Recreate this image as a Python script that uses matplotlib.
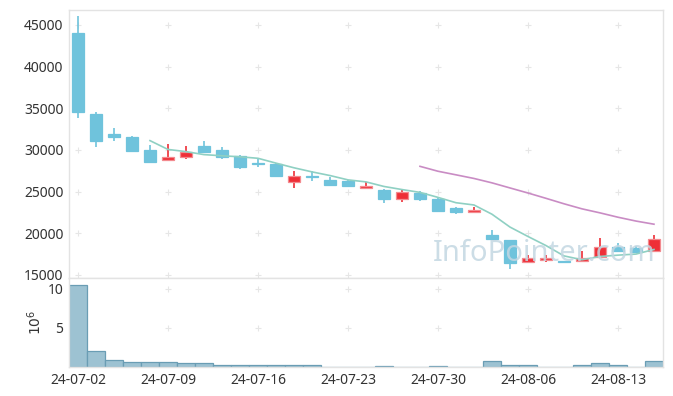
import matplotlib
matplotlib.use("Agg")
import matplotlib.pyplot as plt
import numpy as np
import pandas as pd

plt.rcParams['font.family'] = ['Noto Sans', 'DejaVu Sans']

dates = ["24-07-02", "24-07-03", "24-07-04", "24-07-05", "24-07-08", "24-07-09",
         "24-07-10", "24-07-11", "24-07-12", "24-07-15", "24-07-16", "24-07-17",
         "24-07-18", "24-07-19", "24-07-22", "24-07-23", "24-07-24", "24-07-25",
         "24-07-26", "24-07-29", "24-07-30", "24-07-31", "24-08-01", "24-08-02",
         "24-08-05", "24-08-06", "24-08-07", "24-08-08", "24-08-09", "24-08-12",
         "24-08-13", "24-08-14", "24-08-16"]
opens = [44000, 34300, 31900, 31600, 30000, 28800, 29150, 30450, 30050, 29250,
         28400, 28350, 26150, 26850, 26450, 26250, 25400, 25200, 24150, 24850,
         24100, 23000, 22500, 19800, 19200, 16550, 16800, 16650, 16700, 17200,
         18300, 18250, 17900]
highs = [46100, 34500, 32650, 31700, 30600, 30700, 30500, 31050, 30300, 29400,
         29000, 28400, 27500, 27500, 26700, 26450, 26200, 25300, 25200, 25100,
         24300, 23100, 23100, 20400, 19250, 17350, 17400, 16700, 17900, 19400,
         18850, 18500, 19800]
lows = [33800, 30400, 31100, 29850, 28450, 28700, 28900, 29600, 28900, 27700,
        28000, 26700, 25400, 26300, 25750, 25500, 25350, 23600, 23700, 23900,
        22600, 22300, 22450, 19300, 15700, 16500, 16550, 16550, 16700, 17150,
        17700, 17600, 17900]
closes = [34500, 31100, 31500, 29900, 28600, 29200, 29800, 29700, 29200, 28000,
          28300, 26900, 26900, 26750, 25800, 25700, 25700, 24150, 24900, 24100,
          22700, 22500, 22800, 19350, 16400, 17050, 17050, 16600, 17050, 18350,
          17850, 17700, 19350]
# volume in millions
volumes = [10.45, 2.1, 0.95, 0.7, 0.58, 0.7, 0.45, 0.45, 0.28, 0.28,
           0.28, 0.28, 0.28, 0.28, 0.04, 0.04, 0.04, 0.15, 0.04, 0.04,
           0.15, 0.04, 0.04, 0.72, 0.25, 0.25, 0.04, 0.04, 0.25, 0.5,
           0.25, 0.04, 0.72]

up_color = "#ee2f37"
down_color = "#6fc3dc"

x = np.arange(len(dates))
o = np.array(opens)
c = np.array(closes)
ma5 = pd.Series(closes).rolling(5).mean()
ma20 = pd.Series(closes).rolling(20).mean()

fig = plt.figure(figsize=(6.73, 3.96), dpi=100)
ax = fig.add_axes([0.1025, 0.298, 0.8826, 0.677])
axv = fig.add_axes([0.1025, 0.0732, 0.8826, 0.2248], sharex=ax)

up = c >= o
cols = np.where(up, up_color, down_color)
edges = np.where(up, "#f38a8f", down_color)
ax.vlines(x, lows, highs, colors=cols, linewidth=1.2, zorder=2)
ax.bar(x, np.abs(c - o), bottom=np.minimum(o, c), width=0.65, color=cols,
       edgecolor=edges, linewidth=0.9, zorder=3)
ax.plot(x, ma5, color="#8fd0c3", linewidth=1.2, zorder=4)
ax.plot(x, ma20, color="#c98cc4", linewidth=1.2, zorder=4)

axv.bar(x, volumes, width=1.0, color="#9dc2d2", edgecolor="#6a9db4",
        linewidth=0.9, zorder=2)

ax.set_xlim(-0.5, 32.5)
ax.set_ylim(14640, 46800)
axv.set_ylim(0, 11.4)

xt = x[::5]
ax.set_xticks(xt)
axv.set_xticklabels([dates[i] for i in xt])
plt.setp(ax.get_xticklabels(), visible=False)
ax.set_yticks(np.arange(15000, 45001, 5000))
axv.set_yticks([5, 10])
axv.set_ylabel("$10^6$", fontsize=10, color="#333333", labelpad=2)

# "+" grid marks
for a in (ax, axv):
    gx, gy = np.meshgrid(a.get_xticks(), a.get_yticks())
    a.scatter(gx.ravel(), gy.ravel(), marker="+", s=16, color="#e6e6e6",
              linewidths=0.8, zorder=1)
    a.tick_params(length=0, labelsize=10, colors="#333333", pad=4)
    for s in a.spines.values():
        s.set_color("#e3e3e3")
        s.set_linewidth(1.0)

ax.text(0.80, 0.09, "InfoPointer.com", transform=ax.transAxes, fontsize=21,
        color="#c3d7e2", alpha=0.85, ha="center", va="center", zorder=5)

fig.savefig("out.png", dpi=100)
